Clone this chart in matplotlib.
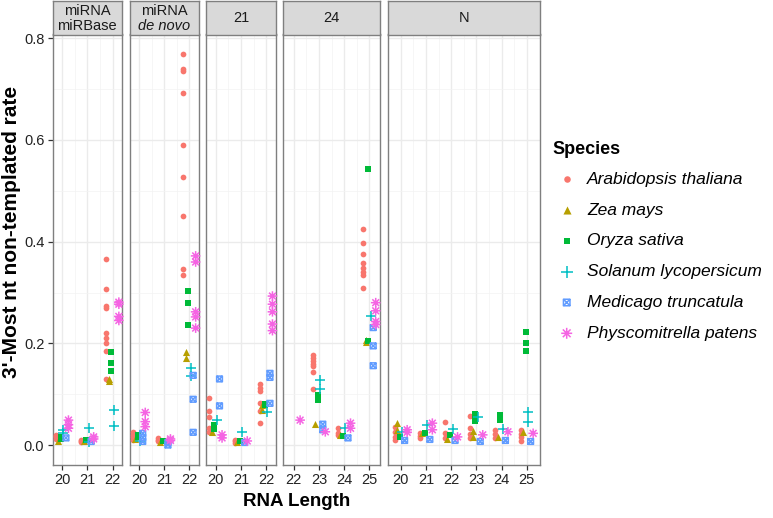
import numpy as np
import matplotlib
matplotlib.use("Agg")
import matplotlib.pyplot as plt
from matplotlib.path import Path

plt.rcParams["font.family"] = ["Liberation Sans", "DejaVu Sans"]

# ---- data: per species, per panel, {RNA length: [rates]} ----
panels = ["miRBase", "denovo", "21", "24", "N"]
panel_lengths = {
    "miRBase": [20, 21, 22],
    "denovo": [20, 21, 22],
    "21": [20, 21, 22],
    "24": [22, 23, 24, 25],
    "N": [20, 21, 22, 23, 24, 25],
}

arabidopsis = {
    "miRBase": {20: [0.012, 0.015, 0.018, 0.02], 21: [0.005, 0.008, 0.01],
                22: [0.366, 0.307, 0.273, 0.269, 0.22, 0.21, 0.2, 0.185, 0.129]},
    "denovo": {20: [0.01, 0.016, 0.02, 0.026], 21: [0.007, 0.01, 0.013],
               22: [0.769, 0.740, 0.736, 0.692, 0.591, 0.528, 0.450, 0.346, 0.334]},
    "21": {20: [0.092, 0.066, 0.056, 0.033, 0.026], 21: [0.004, 0.008, 0.01],
           22: [0.120, 0.113, 0.107, 0.082, 0.066, 0.043]},
    "24": {23: [0.177, 0.171, 0.165, 0.16, 0.155, 0.144, 0.110], 24: [0.033, 0.024, 0.02],
           25: [0.424, 0.398, 0.376, 0.359, 0.348, 0.341, 0.334, 0.309]},
    "N": {20: [0.036, 0.026, 0.016, 0.01], 21: [0.023, 0.013, 0.018], 22: [0.046, 0.023, 0.013],
          23: [0.057, 0.033, 0.013, 0.022], 24: [0.03, 0.013, 0.022], 25: [0.03, 0.022, 0.015, 0.008]},
}
zea = {
    "miRBase": {20: [0.007], 21: [0.008], 22: [0.13, 0.125]},
    "denovo": {20: [0.012], 21: [0.006], 22: [0.182, 0.172]},
    "21": {20: [0.026], 21: [0.006], 22: [0.079, 0.069]},
    "24": {23: [0.041], 24: [0.02], 25: [0.207, 0.203]},
    "N": {20: [0.043, 0.03], 21: [0.023], 22: [0.011], 23: [0.028, 0.016], 24: [0.016], 25: [0.026]},
}
oryza = {
    "miRBase": {20: [0.012, 0.016], 21: [0.01], 22: [0.182, 0.162, 0.146]},
    "denovo": {20: [0.016, 0.02], 21: [0.007], 22: [0.303, 0.279, 0.236]},
    "21": {20: [0.039, 0.031], 21: [0.008], 22: [0.081, 0.079]},
    "24": {23: [0.098, 0.092, 0.088], 24: [0.018], 25: [0.542, 0.205]},
    "N": {20: [0.016], 21: [0.024], 22: [0.02], 23: [0.061, 0.055, 0.048], 24: [0.059, 0.05],
          25: [0.223, 0.200, 0.185]},
}
solanum = {
    "miRBase": {20: [0.024, 0.03], 21: [0.034, 0.005], 22: [0.068, 0.038]},
    "denovo": {20: [0.007], 22: [0.152, 0.135]},
    "21": {20: [0.049], 21: [0.025], 22: [0.064]},
    "24": {23: [0.128, 0.111], 24: [0.033], 25: [0.254]},
    "N": {20: [0.026], 21: [0.039], 22: [0.031], 23: [0.056], 24: [0.031], 25: [0.064, 0.045]},
}
medicago = {
    "miRBase": {20: [0.014], 21: [0.007]},
    "denovo": {20: [0.023, 0.015, 0.007], 21: [0.0, 0.005], 22: [0.137, 0.09, 0.025]},
    "21": {20: [0.130, 0.077], 21: [0.005], 22: [0.141, 0.133, 0.082]},
    "24": {23: [0.041, 0.03], 24: [0.014], 25: [0.231, 0.195, 0.156]},
    "N": {20: [0.009], 21: [0.011], 22: [0.009], 23: [0.007], 24: [0.009], 25: [0.007]},
}
physcomitrella = {
    "miRBase": {20: [0.049, 0.04, 0.033], 21: [0.016, 0.012], 22: [0.281, 0.277, 0.253, 0.245]},
    "denovo": {20: [0.064, 0.046, 0.036], 21: [0.012, 0.009], 22: [0.372, 0.360, 0.262, 0.252, 0.230]},
    "21": {20: [0.02, 0.014], 21: [0.008], 22: [0.293, 0.277, 0.262, 0.238, 0.225]},
    "24": {22: [0.049], 23: [0.026], 24: [0.043, 0.033], 25: [0.280, 0.264, 0.243, 0.237]},
    "N": {20: [0.03, 0.025], 21: [0.043, 0.03], 22: [0.016], 23: [0.02], 24: [0.026], 25: [0.023]},
}

species_names = ["Arabidopsis thaliana", "Zea mays", "Oryza sativa",
                 "Solanum lycopersicum", "Medicago truncatula", "Physcomitrella patens"]
species_data = [arabidopsis, zea, oryza, solanum, medicago, physcomitrella]
colors = ["#F8766D", "#B79F00", "#00BA38", "#00BFC4", "#619CFF", "#F564E3"]

# ---- custom markers (ggplot shapes 7 and 8) ----
d = 0.7071
asterisk = Path([(-1, 0), (1, 0), (0, -1), (0, 1), (-d, -d), (d, d), (-d, d), (d, -d)],
                [Path.MOVETO, Path.LINETO] * 4)
squarex = Path([(-1, -1), (1, -1), (1, 1), (-1, 1), (-1, -1), (-1, -1), (1, 1), (-1, 1), (1, -1)],
               [Path.MOVETO, Path.LINETO, Path.LINETO, Path.LINETO, Path.CLOSEPOLY,
                Path.MOVETO, Path.LINETO, Path.MOVETO, Path.LINETO])
markers = ["o", "^", "s", "+", squarex, asterisk]
sizes = [17, 26, 17, 50, 17, 48]
style = ["fill", "fill", "fill", "line", "path", "path"]

W, H = 773, 518
fig = plt.figure(figsize=(W / 100, H / 100), dpi=100)


def px(l, t, w, h):
    return [l / W, 1 - (t + h) / H, w / W, h / H]


def draw_points(ax, xs, ys, i, scale=1.0):
    s = sizes[i] * scale
    if style[i] == "fill":
        ax.scatter(xs, ys, s=s, marker=markers[i], color=colors[i], linewidths=0,
                   clip_on=False, zorder=3)
    elif style[i] == "line":
        ax.scatter(xs, ys, s=s, marker=markers[i], color=colors[i], linewidths=1.1,
                   clip_on=False, zorder=3)
    else:
        ax.scatter(xs, ys, s=s, marker=markers[i], facecolors="none", edgecolors=colors[i],
                   linewidths=1.1, clip_on=False, zorder=3)


panel_top, panel_bot = 34.5, 464.6
unit, gap, left0 = 25.2, 7.5, 52.7
border = "#7F7F7F"
dodge = np.linspace(-0.25, 0.25, 6)

x = left0
for p_i, pname in enumerate(panels):
    lens = panel_lengths[pname]
    lo, hi = lens[0] - 0.25, lens[-1] + 0.25
    pad = 0.05 * (hi - lo)
    xlim = (lo - pad, hi + pad)
    width = (xlim[1] - xlim[0]) * unit
    ax = fig.add_axes(px(x, panel_top, width, panel_bot - panel_top))
    ax.set_xlim(*xlim)
    ax.set_ylim(-0.0385, 0.8075)
    ax.set_xticks(lens)
    ax.set_xticks([v + 0.5 for v in lens[:-1]], minor=True)
    ax.set_yticks([0, 0.2, 0.4, 0.6, 0.8])
    ax.set_yticks([0.1, 0.3, 0.5, 0.7], minor=True)
    ax.grid(which="major", color="#EBEBEB", linewidth=1.0)
    ax.grid(which="minor", color="#F3F3F3", linewidth=0.5)
    ax.set_axisbelow(True)
    for s in ax.spines.values():
        s.set_color(border)
        s.set_linewidth(1.0)
    ax.tick_params(axis="x", which="major", length=3.5, width=0.9, color="#333333",
                   labelsize=10.5, labelcolor="#222222", pad=2.5)
    ax.tick_params(which="minor", length=0)
    if p_i == 0:
        ax.set_yticklabels(["0.0", "0.2", "0.4", "0.6", "0.8"])
        ax.tick_params(axis="y", which="major", length=3.5, width=0.9, color="#333333",
                       labelsize=10.5, labelcolor="#222222", pad=2.5)
    else:
        ax.tick_params(axis="y", which="major", length=0, labelleft=False)

    for sp_i, sp in enumerate(species_data):
        pts = sp.get(pname, {})
        xs, ys = [], []
        for L, vals in pts.items():
            xs += [L + dodge[sp_i]] * len(vals)
            ys += vals
        if xs:
            draw_points(ax, xs, ys, sp_i)

    # strip
    sax = fig.add_axes(px(x, 1, width, panel_top - 1))
    sax.set_facecolor("#D9D9D9")
    sax.set_xticks([])
    sax.set_yticks([])
    for s in sax.spines.values():
        s.set_color(border)
        s.set_linewidth(1.0)
    if pname == "miRBase":
        sax.text(0.5, 0.71, "miRNA", ha="center", va="center", fontsize=10.5, color="#1A1A1A")
        sax.text(0.5, 0.25, "miRBase", ha="center", va="center", fontsize=10.5, color="#1A1A1A")
    elif pname == "denovo":
        sax.text(0.5, 0.71, "miRNA", ha="center", va="center", fontsize=10.5, color="#1A1A1A")
        sax.text(0.5, 0.25, "de novo", ha="center", va="center", fontsize=10.5,
                 style="italic", color="#1A1A1A")
    else:
        sax.text(0.5, 0.5, pname, ha="center", va="center", fontsize=10.5, color="#1A1A1A")

    x += width + gap

# axis titles
fig.text(296.4 / W, 1 - 502 / H, "RNA Length", ha="center", va="center",
         fontsize=13.5, fontweight="bold")
fig.text(11.5 / W, 1 - 232 / H, "3'-Most nt non-templated rate", ha="center", va="center",
         rotation=90, fontsize=15, fontweight="bold")

# legend
lax = fig.add_axes([0, 0, 1, 1])
lax.set_xlim(0, W)
lax.set_ylim(H, 0)
lax.axis("off")
lax.text(552, 150, "Species", ha="left", va="center", fontsize=13, fontweight="bold")
for i, name in enumerate(species_names):
    yy = 179.3 + i * 30.8
    draw_points(lax, [566.7], [yy], i, scale=1.3)
    lax.text(587, yy, name, ha="left", va="center", fontsize=12.5, style="italic")

fig.savefig("out.png", dpi=100)
